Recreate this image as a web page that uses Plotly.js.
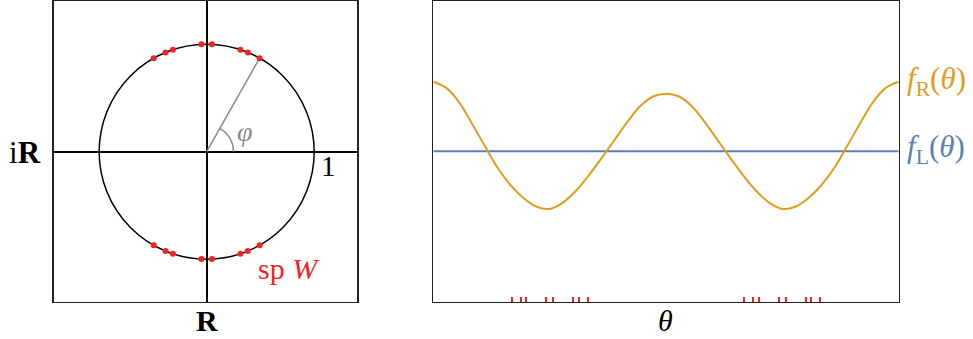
<!DOCTYPE html>
<html>
<head>
<meta charset="utf-8">
<script src="https://cdn.plot.ly/plotly-3.0.1.min.js"></script>
<style>
  html, body { margin: 0; padding: 0; background: #fff; }
  #chart { width: 973px; height: 339px; }
</style>
</head>
<body>
<div id="chart"></div>
<script>
const specAngles = [60.5, 67.5, 71.7, 87.2, 92.8, 108.3, 112.5, 119.5,
                    240.5, 247.5, 251.7, 267.2, 272.8, 288.3, 292.5, 299.5];
const phiAngle = 60.5;     // the marked angle, goes to the first dot
const unitRadius = 1;
const arcRadius = 0.25;

// right panel: f_R(theta) every 10 degrees
const theta = [0, 10, 20, 30, 40, 50, 60, 70, 80, 90, 100, 110, 120, 130, 140, 150, 160, 170, 180,
               190, 200, 210, 220, 230, 240, 250, 260, 270, 280, 290, 300, 310, 320, 330, 340, 350, 360];
const fR = [0.696, 0.634, 0.49, 0.275, 0.05, -0.17, -0.342, -0.47, -0.555, -0.576,
            -0.515, -0.40, -0.245, -0.07, 0.11, 0.292, 0.45, 0.548, 0.575,
            0.548, 0.45, 0.292, 0.11, -0.07, -0.245, -0.40, -0.515, -0.576,
            -0.555, -0.47, -0.342, -0.17, 0.05, 0.275, 0.49, 0.634, 0.696];
const fLvalue = 0;

const W = 973, H = 339;
const px = x => x / W;
const py = y => 1 - y / H;
const FONT = "Liberation Serif, DejaVu Serif, serif";
const orange = "#e19c24";
const blue = "#5e81b5";
const red = "#f02424";
const gray = "#8a8a8a";

const rad = d => d * Math.PI / 180;

// dots on the circle
let dotX = specAngles.map(a => unitRadius * Math.cos(rad(a)));
let dotY = specAngles.map(a => unitRadius * Math.sin(rad(a)));

// little arc for phi
let arcX = [], arcY = [];
for (let a = 0; a <= phiAngle; a += 2) {
    arcX.push(arcRadius * Math.cos(rad(a)));
    arcY.push(arcRadius * Math.sin(rad(a)));
}
arcX.push(arcRadius * Math.cos(rad(phiAngle)));
arcY.push(arcRadius * Math.sin(rad(phiAngle)));

let radiusLine = {
    x: [0, unitRadius * Math.cos(rad(phiAngle))],
    y: [0, unitRadius * Math.sin(rad(phiAngle))],
    type: 'scatter', mode: 'lines', xaxis: 'x', yaxis: 'y',
    line: { color: gray, width: 1.5 }
};
let arc = {
    x: arcX, y: arcY, type: 'scatter', mode: 'lines', xaxis: 'x', yaxis: 'y',
    line: { color: gray, width: 1.5 }
};
let dots = {
    x: dotX, y: dotY, type: 'scatter', mode: 'markers', xaxis: 'x', yaxis: 'y',
    marker: { color: red, size: 6, line: { width: 0 } }
};
let traceR = {
    x: theta, y: fR, type: 'scatter', mode: 'lines', xaxis: 'x2', yaxis: 'y2',
    line: { color: orange, width: 2, shape: 'spline', smoothing: 1 }
};
let traceL = {
    x: [theta[0], theta[theta.length - 1]], y: [fLvalue, fLvalue],
    type: 'scatter', mode: 'lines', xaxis: 'x2', yaxis: 'y2',
    line: { color: blue, width: 2 }
};

const boxAxis = {
    showgrid: false, showticklabels: false, ticks: '',
    showline: true, mirror: true, linecolor: '#222', linewidth: 1.7
};

let layout = {
    width: W, height: H,
    margin: { l: 0, r: 0, t: 0, b: 0 },
    paper_bgcolor: '#fff', plot_bgcolor: '#fff',
    showlegend: false,
    font: { family: FONT, color: '#000', size: 28 },
    xaxis: Object.assign({}, boxAxis, {
        domain: [px(54), px(357.3)], range: [-1.42, 1.401],
        zeroline: true, zerolinecolor: '#000', zerolinewidth: 2
    }),
    yaxis: Object.assign({}, boxAxis, {
        domain: [py(301.7), py(1)], range: [-1.395, 1.402],
        zeroline: true, zerolinecolor: '#000', zerolinewidth: 2
    }),
    xaxis2: Object.assign({}, boxAxis, {
        domain: [px(433.3), px(898.7)], range: [0, 360], zeroline: false,
        tickmode: 'array', tickvals: specAngles, ticks: 'inside',
        ticklen: 5, tickwidth: 2, tickcolor: red
    }),
    yaxis2: Object.assign({}, boxAxis, {
        domain: [py(301.7), py(1)], range: [-1.504, 1.503], zeroline: false,
        anchor: 'x2'
    }),
    shapes: [{
        type: 'circle', xref: 'x', yref: 'y', layer: 'below',
        x0: -unitRadius, x1: unitRadius, y0: -unitRadius, y1: unitRadius,
        line: { color: '#000', width: 1.5 }
    }],
    annotations: [
        { text: 'i<b>R</b>', x: px(25), y: py(152), font: { size: 31 } },
        { text: '<b>R</b>', x: px(206.5), y: 0, yanchor: 'bottom', font: { size: 30 } },
        { text: '1', x: px(328.5), y: py(166), font: { size: 29 } },
        { text: 'sp <i>W</i>', x: px(289), y: py(268), font: { size: 30, color: red } },
        { text: '<i>φ</i>', x: px(245), y: py(132), font: { size: 28, color: gray } },
        { text: '<i>θ</i>', x: px(665), y: 0, yanchor: 'bottom', font: { size: 30 } },
        { text: '<i>f</i><sub>R</sub>(<i>θ</i>)', x: px(905), y: py(81), xanchor: 'left',
          font: { size: 31, color: orange } },
        { text: '<i>f</i><sub>L</sub>(<i>θ</i>)', x: px(905), y: py(149), xanchor: 'left',
          font: { size: 31, color: blue } }
    ].map(a => Object.assign({ xref: 'paper', yref: 'paper', showarrow: false,
                               xanchor: 'center', yanchor: 'middle' }, a))
};

Plotly.newPlot('chart', [radiusLine, arc, traceL, traceR, dots], layout,
    { staticPlot: true, displayModeBar: false });
</script>
</body>
</html>
